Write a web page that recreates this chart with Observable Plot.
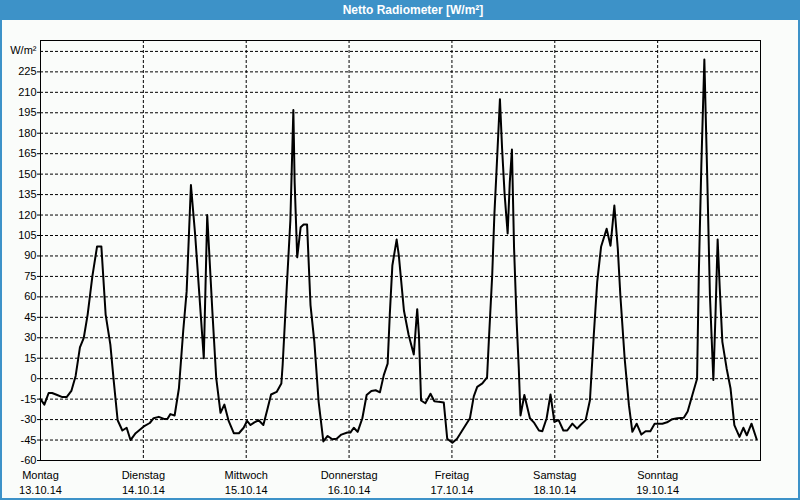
<!DOCTYPE html>
<html><head><meta charset="utf-8">
<script src="https://cdn.jsdelivr.net/npm/d3@7"></script>
<script src="https://cdn.jsdelivr.net/npm/@observablehq/plot@0.6"></script>
<style>
body{margin:0;background:#fafcfa;}
#wrap{position:relative;width:800px;height:500px;box-sizing:border-box;border:2px solid #3d92c8;border-top:none;background:#fafcfa;font-family:"Liberation Sans",Arial,sans-serif;overflow:hidden;}
#title{height:20px;line-height:21px;background:#3d92c8;color:#fff;font-weight:bold;font-size:12px;text-align:center;margin:0 -2px;padding-left:26px;}
#chart svg{display:block;}
</style></head>
<body>
<div id="wrap"><div id="title">Netto Radiometer [W/m²]</div><div id="chart"></div></div>
<script>
// Hours since Monday 13.10.14 00:00
const hours = [0,0.9,1.9,2.7,3.9,5.1,6.1,7.2,8.2,9.2,10.1,11.0,12.1,13.2,14.2,15.2,16.3,17.1,18.0,19.1,20.1,21.0,22.2,24.1,25.5,26.4,27.6,28.8,29.6,30.3,31.3,32.3,33.3,34.1,
35.1,36.1,37.1,38.1,38.9,40.1,41.0,42.0,42.9,43.9,45.1,46.3,47.4,48.2,49.0,49.9,50.9,52.0,52.9,53.8,55.1,56.2,56.5,57.4,58.3,59.0,59.3,59.9,60.7,61.4,62.2,63.0,63.9,64.9,66.0,67.0,68.1,69.1,70.2,71.6,72.3,73.1,74.0,75.1,76.1,77.2,78.2,79.2,80.1,81.0,81.5,82.1,83.1,83.6,84.8,85.9,87.1,87.9,88.3,88.8,89.8,91.0,91.9,92.9,94.1,94.9,96.1,97.2,98.4,100.2,101.1,101.9,103.1,104.2,104.6,105.4,105.9,106.4,107.2,107.7,108.3,109.0,109.5,110.0,110.5,111.1,111.6,112.0,112.9,114.2,115.1,116.3,117.1,118.1,119.0,119.9,120.9,122.0,122.9,124.1,125.2,126.0,127.2,128.2,129.1,129.9,130.8,132.1,133.0,133.9,134.7,135.3,136.3,137.3,138.1,139.1,140.2,141.2,142.3,143.3,145.1,146.2,147.4,148.6,150.1,151.0,152.1,153.2,153.6,154.2,154.9,155.6,156.2,157.0,157.5,158.0,158.5,159.1,160.1,161.0,161.9,163.1,164.0,164.8,165.9,167.1];
const values = [-15,-19,-10.5,-10.5,-12,-13.5,-13.5,-9,2,23,30,47,75,97,97,47,25,-2,-30.5,-38,-36,-45,-40,-35,-32.5,-29,-28,-29.5,-29.5,-26,-27,-7,35,64,
142,105,60,15,120,49.5,0.6,-25,-19,-31,-40,-40,-36,-31,-34,-32,-30.5,-34,-23,-11.6,-9.7,-3.5,10,63.7,116,197,144,89,111,113,113,54,27,-17,-46,-42,-44.4,-44,-41,-39.5,-39.5,-36,-39,-29,-12,-9,-8.5,-10,2.6,11,47,83,102,90.6,50,32,17.7,51,32,-16,-18,-11,-16.5,-17,-17.5,-44,-47,-44,-38,-29,-13,-6,-3.5,1,27,76,120,152,205,169,135,106.5,144,168,95.5,42,7.5,-27,-12,-29,-32,-38,-38.5,-29,-11.6,-31.7,-30.4,-38,-38,-33,-36.6,-34,-30.4,-15.8,32,71,96.7,110,97.5,127,95.5,61,15,-19.4,-39,-33,-41,-38.5,-38.5,-33,-33,-32,-29.7,-29,-28.7,-24,-12,0,76,157,234,144,61,-1,47,102,66,27,7.5,-7,-34,-42.7,-36,-41.5,-33,-44.4];
const dayNames = ["Montag","Dienstag","Mittwoch","Donnerstag","Freitag","Samstag","Sonntag"];
const dayDates = ["13.10.14","14.10.14","15.10.14","16.10.14","17.10.14","18.10.14","19.10.14"];
const yTickValues = [-60,-45,-30,-15,0,15,30,45,60,75,90,105,120,135,150,165,180,195,210,225,240];
const yUnit = "W/m²";

const start = Date.UTC(2014, 9, 13);
const data = hours.map((h, i) => ({t: new Date(start + h * 3600e3), v: values[i]}));
const dayTicks = dayNames.map((_, i) => new Date(start + i * 864e5));
const dayIndex = d => Math.round((d - start) / 864e5);
const dash = {stroke: "#000", strokeOpacity: 1, strokeDasharray: "3,2", strokeWidth: 1};

const chart = Plot.plot({
  width: 796, height: 478,
  marginLeft: 38, marginRight: 38, marginTop: 20, marginBottom: 38,
  style: {background: "transparent", fontSize: "11px", fontFamily: "'Liberation Sans', Arial, sans-serif", color: "#000"},
  x: {type: "utc", domain: [new Date(start), new Date(start + 7 * 864e5)]},
  y: {domain: [-60, 248]},
  marks: [
    Plot.gridY(yTickValues, dash),
    Plot.gridX(dayTicks.slice(1), dash),
    Plot.frame({stroke: "#000", strokeOpacity: 1}),
    Plot.line(data, {x: "t", y: "v", stroke: "#000", strokeWidth: 2}),
    Plot.axisY(yTickValues.filter(d => d !== 240), {tickSize: 3, tickPadding: 1, label: null, tickFormat: d => String(d)}),
    Plot.axisX(dayTicks, {tickSize: 0, tickPadding: 8, label: null, lineHeight: 1.35, tickFormat: d => dayNames[dayIndex(d)] + "\n" + dayDates[dayIndex(d)]}),
    Plot.text([yUnit], {frameAnchor: "top-left", textAnchor: "end", dx: -4, dy: 6, fill: "#000"})
  ]
});
document.getElementById("chart").appendChild(chart);
</script>
</body></html>
